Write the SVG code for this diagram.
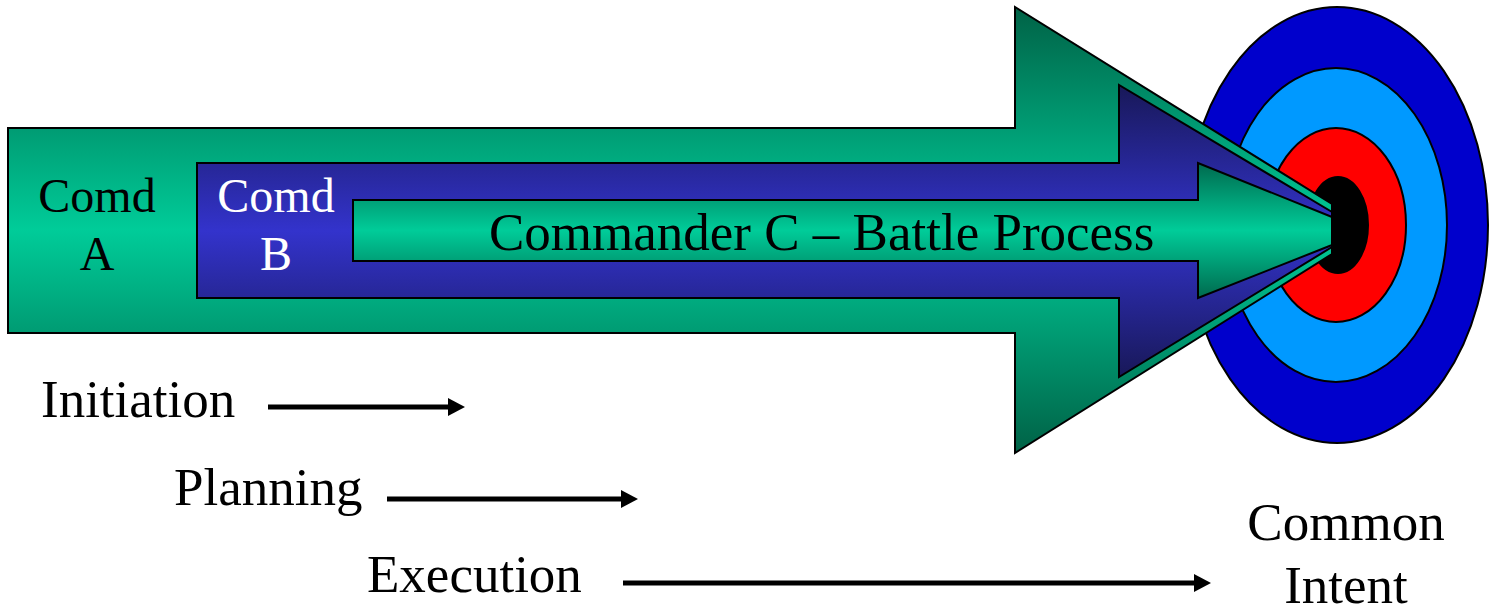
<svg xmlns="http://www.w3.org/2000/svg" width="1489" height="607" viewBox="0 0 1489 607">
  <defs>
    <linearGradient id="gGreen" x1="0" y1="0" x2="0" y2="1">
      <stop offset="0" stop-color="#006246"/>
      <stop offset="0.5" stop-color="#00CC99"/>
      <stop offset="1" stop-color="#006246"/>
    </linearGradient>
    <linearGradient id="gGreenInner" x1="0" y1="0" x2="0" y2="1">
      <stop offset="0" stop-color="#006A4E"/>
      <stop offset="0.5" stop-color="#00CC99"/>
      <stop offset="1" stop-color="#006A4E"/>
    </linearGradient>
    <linearGradient id="gBlue" x1="0" y1="0" x2="0" y2="1">
      <stop offset="0" stop-color="#181858"/>
      <stop offset="0.5" stop-color="#3333CC"/>
      <stop offset="1" stop-color="#181858"/>
    </linearGradient>
    <marker id="head" markerUnits="userSpaceOnUse" markerWidth="18" markerHeight="18" refX="0" refY="9" orient="auto" viewBox="0 0 18 18">
      <path d="M0,0 L17,9 L0,18 Z" fill="#000"/>
    </marker>
    <style>
      .shape { stroke: #000; stroke-width: 2; stroke-linejoin: miter; }
      .t { font-family: "Liberation Serif", "Times New Roman", serif; font-size: 53px; fill: #000; }
      .comd { font-size: 48px; text-anchor: middle; }
      .flow { stroke: #000; stroke-width: 5; fill: none; }
    </style>
  </defs>

  <g id="target">
    <ellipse cx="1337" cy="225" rx="151" ry="218" fill="#0000CC" class="shape"/>
    <ellipse cx="1336" cy="225" rx="111" ry="157" fill="#0099FF" class="shape"/>
    <ellipse cx="1336" cy="225" rx="70" ry="97" fill="#FF0000" class="shape"/>
    <ellipse cx="1338" cy="225" rx="30" ry="48" fill="#000000" class="shape"/>
  </g>

  <g id="comd-a">
    <polygon class="shape" fill="url(#gGreen)" points="8,128 1015,128 1015,7 1332,204 1332,254 1015,453 1015,333 8,333"/>
    <text class="t comd" x="97" y="212">Comd</text>
    <text class="t comd" x="97" y="270">A</text>
  </g>

  <g id="comd-b">
    <polygon class="shape" fill="url(#gBlue)" points="197,163 1119,163 1119,85 1332,212 1332,247 1119,377 1119,298 197,298"/>
    <text class="t comd" x="276" y="212" fill="#FFFFFF" style="fill:#FFFFFF">Comd</text>
    <text class="t comd" x="276" y="270" style="fill:#FFFFFF">B</text>
  </g>

  <g id="comd-c">
    <polygon class="shape" fill="url(#gGreenInner)" points="353,200 1198,200 1198,163 1332,217 1332,245 1198,298 1198,261 353,261"/>
    <text class="t" x="489" y="250">Commander C – Battle Process</text>
  </g>

  <g id="labels">
    <text class="t" x="41" y="417">Initiation</text>
    <text class="t" x="174" y="505">Planning</text>
    <text class="t" x="367" y="592">Execution</text>
    <text class="t" x="1346" y="540" text-anchor="middle">Common</text>
    <text class="t" x="1346" y="603" text-anchor="middle">Intent</text>
  </g>

  <g id="connectors">
    <line class="flow" x1="268" y1="407" x2="448" y2="407" marker-end="url(#head)"/>
    <line class="flow" x1="387" y1="499" x2="621" y2="499" marker-end="url(#head)"/>
    <line class="flow" x1="623" y1="583" x2="1194" y2="583" marker-end="url(#head)"/>
  </g>
</svg>
